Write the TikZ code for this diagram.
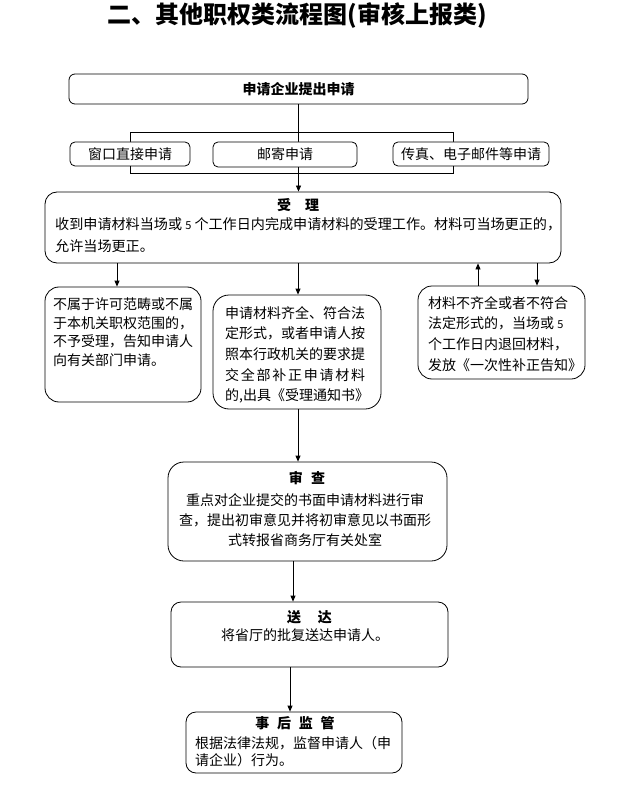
\documentclass[tikz,border=0pt]{standalone}
\usepackage{fontspec}
\setmainfont{Noto Sans CJK SC}
\usetikzlibrary{arrows.meta,backgrounds}
\begin{document}
\begin{tikzpicture}[x=1pt,y=-1pt,
  box/.style={draw, line width=0.8pt, fill=white, rounded corners=#1, inner sep=0pt},
  box/.default=10pt,
  arr/.style={draw, line width=0.8pt, -{Triangle[length=6pt,width=5pt]}},
  txt/.style={inner sep=0pt, align=left, font=\fontsize{14}{18.5}\selectfont},
  ttl/.style={inner sep=0pt, font=\fontsize{14}{16}\selectfont\bfseries},
  small/.style={font=\fontsize{14}{16}\selectfont}]
\useasboundingbox (0,0) rectangle (635,799);

% title
\node[inner sep=0pt, font=\fontsize{24}{24}\selectfont\bfseries] (title) at (297,16) {二、其他职权类流程图(审核上报类)};

% top box
\node[box=6pt, minimum width=459pt, minimum height=30pt, ttl] (b1) at (298.5,89) {申请企业提出申请};

% channel boxes
\node[box=5pt, minimum width=120pt, minimum height=24pt, small] (w1) at (130,154) {窗口直接申请};
\node[box=5pt, minimum width=144pt, minimum height=25pt, small] (w2) at (285,154.5) {邮寄申请};
\node[box=5pt, minimum width=156pt, minimum height=24pt, small] (w3) at (471,154) {传真、电子邮件等申请};

% acceptance
\node[box=12pt, minimum width=516pt, minimum height=71pt] (sl) at (303,227.5) {};
\node[ttl] (slt) at (298,205) {受\hspace{1em}理};
\node[txt, anchor=north west, font=\fontsize{14.1}{22}\selectfont] (slb) at (55,217)
  {收到申请材料当场或 {\fontsize{11}{11}\selectfont 5} 个工作日内完成申请材料的受理工作。材料可当场更正的，\\允许当场更正。};

% three outcome boxes
\node[box=14pt, minimum width=156pt, minimum height=115pt] (L) at (123,344.5) {};
\node[txt, anchor=north west] (Lt) at (53,298)
  {不属于许可范畴或不属\\于本机关职权范围的，\\不予受理，告知申请人\\向有关部门申请。};

\node[box=16pt, minimum width=168pt, minimum height=114pt] (M) at (297,352) {};
\node[txt, anchor=north west, font=\fontsize{14}{20.7}\selectfont] (Mt) at (225,306)
  {申请材料齐全、符合法\\定形式，或者申请人按\\照本行政机关的要求提\\\makebox[140pt][s]{交\hfil 全\hfil 部\hfil 补\hfil 正\hfil 申\hfil 请\hfil 材\hfil 料}\\的,出具《受理通知书》};

\node[box=14pt, minimum width=167pt, minimum height=93pt] (R) at (501.5,332.5) {};
\node[txt, anchor=north west, font=\fontsize{14}{20.7}\selectfont] (Rt) at (428,296)
  {材料不齐全或者不符合\\法定形式的，当场或 {\fontsize{11}{11}\selectfont 5}\\个工作日内退回材料，\\发放《一次性补正告知》};

% review
\node[box=16pt, minimum width=279pt, minimum height=99pt] (SC) at (307.5,511.5) {};
\node[ttl] (SCt) at (307,478) {审\hspace{0.6em}查};
\node[txt, align=center, anchor=north, font=\fontsize{14}{20}\selectfont] (SCb) at (305,493)
  {重点对企业提交的书面申请材料进行审\\查，提出初审意见并将初审意见以书面形\\式转报省商务厅有关处室};

% delivery
\node[box=10pt, minimum width=277pt, minimum height=65pt] (SD) at (309.5,634.5) {};
\node[ttl] (SDt) at (309.5,617) {送\hspace{1.2em}达};
\node[txt, anchor=center] (SDb) at (305,635) {将省厅的批复送达申请人。};

% supervision
\node[box=10pt, minimum width=216pt, minimum height=61pt] (SH) at (294,742.5) {};
\node[ttl] (SHt) at (295,723) {事\hspace{0.55em}后\hspace{0.55em}监\hspace{0.55em}管};
\node[txt, anchor=north west, font=\fontsize{14}{17}\selectfont] (SHb) at (195,736)
  {根据法律法规，监督申请人（申\\请企业）行为。};

\begin{pgfonlayer}{background}
  \node[draw, line width=0.8pt, minimum width=323pt, minimum height=41pt, inner sep=0pt] (br) at (291.5,152.5) {};
  \draw[arr] (b1.south) -- (b1.south |- sl.north);
\end{pgfonlayer}

% connectors
\draw[arr] (117,0 |- sl.south) -- (117,0 |- L.north);
\draw[arr] (298,0 |- sl.south) -- (298,0 |- M.north);
\draw[arr] (478,0 |- R.north) -- (478,0 |- sl.south);
\draw[arr] (537,0 |- sl.south) -- (537,0 |- R.north);
\draw[arr] (298,0 |- M.south) -- (298,0 |- SC.north);
\draw[arr] (293,0 |- SC.south) -- (293,0 |- SD.north);
\draw[arr] (290,0 |- SD.south) -- (290,0 |- SH.north);
\end{tikzpicture}
\end{document}
